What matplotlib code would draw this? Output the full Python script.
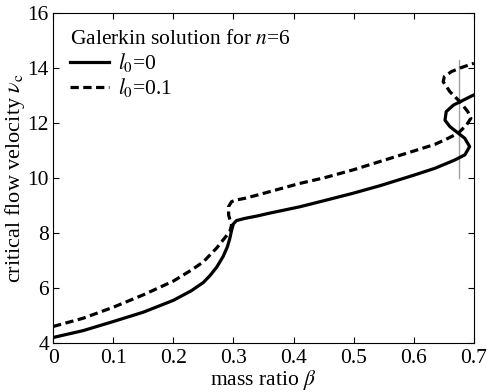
import matplotlib
matplotlib.use("Agg")
import matplotlib.pyplot as plt

plt.rcParams["font.family"] = ["Liberation Serif", "DejaVu Serif"]
plt.rcParams["mathtext.fontset"] = "stix"
plt.rcParams["font.size"] = 15.5

# ---------- data ----------
beta_l0 = [0, 0.05, 0.1, 0.15, 0.2, 0.23, 0.25, 0.261, 0.272, 0.283, 0.29, 0.294,
           0.297, 0.3, 0.305, 0.319, 0.34, 0.36, 0.41, 0.45, 0.5, 0.544, 0.6,
           0.635, 0.668, 0.685, 0.693, 0.685, 0.674, 0.66, 0.652, 0.654, 0.666,
           0.677, 0.7]
nu_l0 = [4.2, 4.45, 4.78, 5.12, 5.55, 5.9, 6.2, 6.45, 6.75, 7.15, 7.5, 7.8,
         8.1, 8.33, 8.45, 8.53, 8.62, 8.72, 8.95, 9.17, 9.45, 9.72, 10.1,
         10.35, 10.65, 10.84, 11.14, 11.44, 11.63, 11.87, 12.1, 12.41, 12.65,
         12.77, 13.02]

beta_l01 = [0, 0.05, 0.1, 0.15, 0.2, 0.23, 0.25, 0.261, 0.272, 0.283, 0.294, 0.297,
            0.294, 0.292, 0.292, 0.297, 0.305, 0.319, 0.34, 0.36, 0.41, 0.45, 0.5,
            0.544, 0.6, 0.635, 0.657, 0.674, 0.688, 0.695, 0.69, 0.677, 0.66,
            0.649, 0.651, 0.663, 0.68, 0.7]
nu_l01 = [4.6, 4.9, 5.3, 5.75, 6.25, 6.65, 6.95, 7.2, 7.45, 7.75, 8.05, 8.29,
          8.5, 8.65, 8.96, 9.14, 9.2, 9.26, 9.38, 9.5, 9.8, 10.0, 10.3,
          10.6, 10.98, 11.22, 11.44, 11.63, 11.93, 12.17, 12.41, 12.77, 13.14,
          13.5, 13.69, 13.87, 14.02, 14.17]

marker_beta = [0.675, 0.675]
marker_nu = [10.0, 14.3]

fig = plt.figure(figsize=(4.87, 3.92), dpi=100)
ax = fig.add_axes([0.109, 0.125, 0.864, 0.842])

ax.plot(marker_beta, marker_nu, color="#a0a0a0", lw=1.0)
ax.plot(beta_l0, nu_l0, color="black", lw=2.3, label=r"$l_0$=0")
ax.plot(beta_l01, nu_l01, color="black", lw=2.3, dashes=(2.6, 1.4), label=r"$l_0$=0.1")

ax.set_xlim(0, 0.7)
ax.set_ylim(4, 16)
ax.set_xticks([0, 0.1, 0.2, 0.3, 0.4, 0.5, 0.6, 0.7])
ax.set_xticklabels(["0", "0.1", "0.2", "0.3", "0.4", "0.5", "0.6", "0.7"])
ax.set_yticks([4, 6, 8, 10, 12, 14, 16])
ax.tick_params(direction="in", top=True, right=True, length=4, width=0.8,
               labelsize=15.5)
ax.tick_params(axis="x", pad=4)
ax.tick_params(axis="y", pad=3)
ax.set_xlabel(r"mass ratio $\beta$", fontsize=15.5, labelpad=0.5)
ax.set_ylabel(r"critical flow velocity $\nu_{\rm c}$", fontsize=16, labelpad=0)

leg = ax.legend(title=r"Galerkin solution for $n$=6", loc="upper left",
                frameon=False, fontsize=15.5, title_fontsize=15.5,
                handlelength=1.8, handletextpad=0.4, labelspacing=0.1,
                borderaxespad=0.5, borderpad=0.3)
leg._legend_box.align = "left"

fig.savefig("out.png", dpi=100)
